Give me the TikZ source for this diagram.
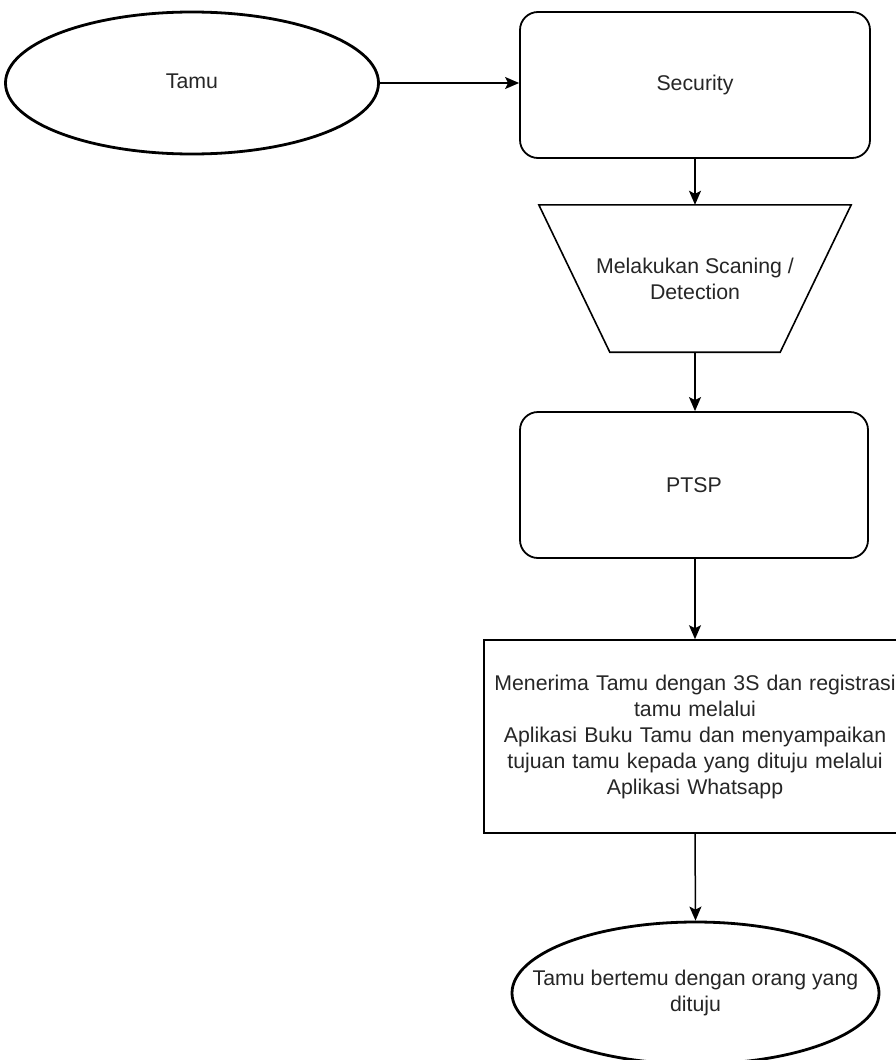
\documentclass[tikz,border=0pt]{standalone}
\usepackage{fontspec}
\setmainfont{Liberation Sans}
\usetikzlibrary{shapes.geometric,arrows.meta}
\definecolor{txt}{HTML}{262626}
\tikzset{
  every node/.style={font=\fontsize{21.3}{26}\selectfont, text=txt, inner sep=0pt, align=center},
  term/.style={ellipse, draw=black, line width=2.8pt},
  rbox/.style={rectangle, rounded corners=18pt, draw=black, line width=1.8pt},
  pbox/.style={rectangle, draw=black, line width=1.6pt},
  conn/.style={draw=black, line width=1.5pt, -{Stealth[length=14pt,width=12pt,inset=3pt]}},
}
\begin{document}
\begin{tikzpicture}[x=1pt,y=-1pt]
\clip (0,0) rectangle (896,1060);
\fill[white] (0,0) rectangle (896,1060);
\node[term, minimum width=373pt, minimum height=142pt] (tamu) at (192,83) {};
\node (tamutxt) at (tamu.center) [yshift=2pt] {Tamu};
\node[rbox, minimum width=350pt, minimum height=146pt] (sec) at (695,85) {Security};
\node[minimum width=312pt, minimum height=147pt] (scan) at (695,278.5) {Melakukan Scaning /\\Detection};
\draw[line width=1.6pt, line join=miter] (scan.north west) -- (scan.north east) -- ([xshift=-71pt]scan.south east) -- ([xshift=71pt]scan.south west) -- cycle;
\node[rbox, minimum width=348pt, minimum height=146pt] (ptsp) at (694,485) {PTSP};
\node[pbox, minimum width=422pt, minimum height=193pt, text width=420pt] (reg) at (695,736.5) {Menerima Tamu dengan 3S dan registrasi\\tamu melalui\\Aplikasi Buku Tamu dan menyampaikan\\tujuan tamu kepada yang dituju melalui\\Aplikasi Whatsapp};
\node[term, minimum width=367pt, minimum height=142pt] (end) at (695.5,993) {};
\node (endtxt) at (end.center) {Tamu bertemu dengan orang yang\\dituju};
\draw[conn] (tamu.east) -- (tamu.east -| sec.west);
\draw[conn] (sec.south) -- (scan.north);
\draw[conn] (scan.south) -- (scan.south |- ptsp.north);
\draw[conn] (ptsp.south) -- (ptsp.south -| reg.north) -- (reg.north);
\draw[conn] (reg.south) -- (end.north);
\end{tikzpicture}
\end{document}
